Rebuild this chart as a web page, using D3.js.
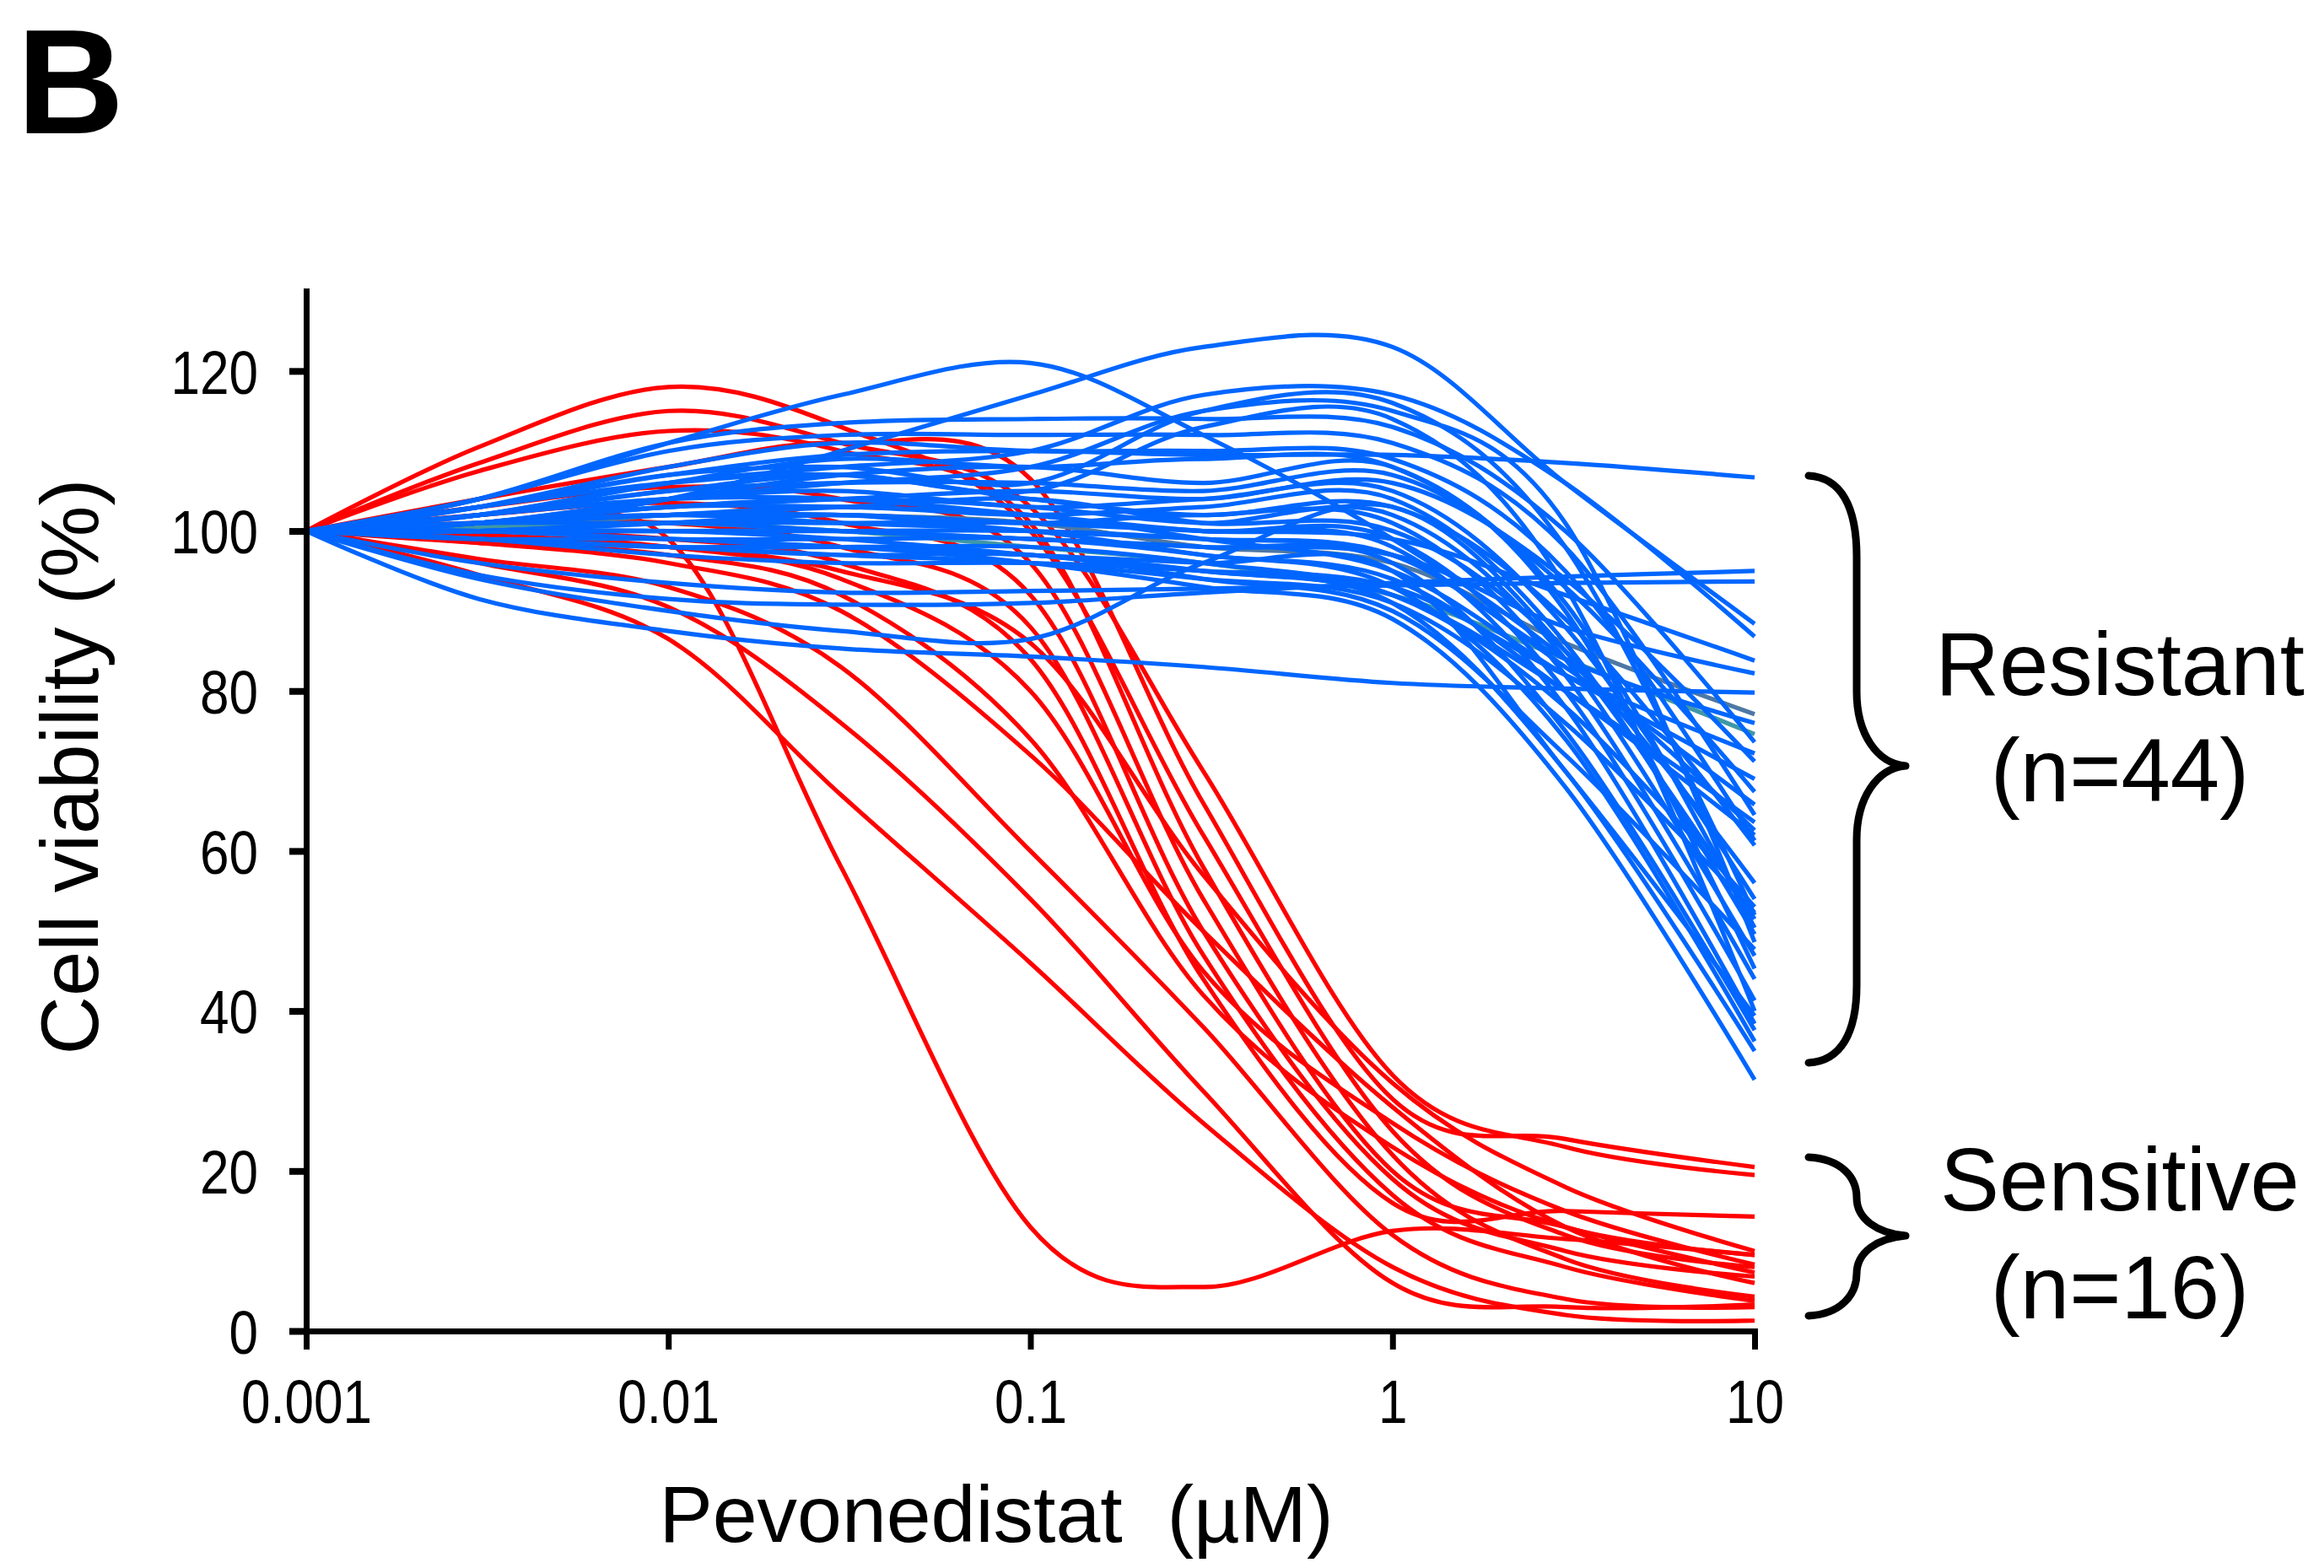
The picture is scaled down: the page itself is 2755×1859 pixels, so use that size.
<!DOCTYPE html>
<html><head><meta charset="utf-8">
<script src="https://cdn.jsdelivr.net/npm/d3@7"></script>
<style>body{margin:0;background:#fff} svg{display:block;background:#fff}</style>
</head><body><svg id="chart" width="2755" height="1859"></svg>
<script>
// ---- data ----
const concentrations = [0.001, 0.003, 0.01, 0.03, 0.1, 0.3, 1, 3, 10];
const xTickValues = [0.001, 0.01, 0.1, 1, 10];
const xTickLabels = ["0.001", "0.01", "0.1", "1", "10"];
const yTickValues = [0, 20, 40, 60, 80, 100, 120];

// Sensitive cell lines (n=16), viability % at each concentration
const sensitiveCurves = [
  [100, 110.5, 118, 113, 100, 62, 25, 12, 8],
  [100, 108.5, 115, 111, 103, 70, 32, 23, 19.5],
  [100, 107.5, 112.5, 110, 101, 58, 22, 9, 4.3],
  [100, 104, 108, 111, 106.5, 66, 29, 24, 20.5],
  [100, 103, 105.5, 104, 96, 54, 20, 13, 7.3],
  [100, 102, 103.5, 101, 92, 50, 19, 10, 6.8],
  [100, 101, 101, 98, 88, 47, 17, 8, 3.8],
  [100, 100, 99, 96, 84, 44, 16, 15, 14.3],
  [100, 99.5, 98, 94, 80, 45, 26, 15, 8.3],
  [100, 98.5, 97, 92, 74, 42, 23, 13, 9.5],
  [100, 99.5, 99, 58, 13, 5.5, 12.5, 11.5, 9.5],
  [100, 94.5, 86.5, 67, 46, 26, 8, 2, 1.3],
  [100, 96, 90.5, 76, 54, 30, 6, 3, 3.3],
  [100, 96.5, 93, 83, 60, 38, 12, 4, 3.0],
  [100, 98.5, 96, 90, 72, 50, 28, 13, 6],
  [100, 99, 98, 95, 86, 57, 31, 18, 10]
];

// Resistant cell lines (n=44)
const resistantCurves = [
  [100, 101, 104, 110, 117, 123, 123, 106, 88.4],
  [100, 104, 111, 117, 121, 112, 99, 84, 62.6],
  [100, 102, 106, 108, 110, 117, 117, 106, 86.8],
  [100, 103, 107, 108, 106, 115, 116, 98, 52],
  [100, 101, 104, 106, 108, 115, 115, 101, 48.6],
  [100, 102, 105, 107, 105, 113, 114, 93, 40],
  [100, 103, 107, 109.5, 110, 109.5, 109.5, 108.5, 106.7],
  [100, 104, 111, 113.5, 114, 114, 113, 100, 73.6],
  [100, 104, 110, 112, 112, 112, 111, 98, 64.5],
  [100, 103, 108, 111, 110, 110, 109, 95, 61.3],
  [100, 102, 106, 109, 108, 109, 108, 91, 50.4],
  [100, 101, 104, 107, 108, 106, 108, 90, 45.3],
  [100, 102, 105, 106, 106, 105, 107, 93, 67.4],
  [100, 101, 103, 104, 105, 104, 106, 94, 71.2],
  [100, 102, 104, 105, 103, 104, 105, 88, 54],
  [100, 101, 102, 103, 102, 103, 104, 86, 49.6],
  [100, 103, 106, 107, 104, 102, 103, 89, 60.7],
  [100, 101, 103, 104, 103, 101, 102, 84, 46.9],
  [100, 100, 101, 102, 101, 102, 101, 82, 44],
  [100, 101, 102, 103, 104, 101, 100, 85, 56],
  [100, 102, 104, 104, 102, 100, 99, 80, 41.3],
  [100, 100, 101, 101, 101, 100, 98, 78, 38.4],
  [100, 101, 101, 102, 100, 99, 97, 83, 65.8],
  [100, 100, 102, 102, 101, 98, 96, 86, 77.1],
  [100, 101, 103, 103, 102, 99, 95, 82, 69],
  [100, 100, 100, 100, 99, 98, 96, 75, 37.6],
  [100, 101, 102, 101, 100, 97, 94, 80, 62],
  [100, 100, 99, 99, 99, 97, 93, 74, 36.2],
  [100, 99, 98, 98, 98, 96, 92, 78, 53],
  [100, 100, 100, 99, 97, 95, 91, 70, 35],
  [100, 99, 98, 97, 97, 94, 90, 72, 47.7],
  [100, 99, 98, 98, 96, 93, 89, 68, 31.4],
  [100, 100, 99, 98, 97, 95, 92, 80, 63.6],
  [100, 99, 97, 96, 96, 95, 93, 82, 72.2],
  [100, 100, 101, 100, 99, 98, 97, 88, 82.2],
  [100, 101, 102, 102, 101, 100, 99, 92, 83.8],
  [100, 100, 100, 100, 100, 99, 97, 84, 76],
  [100, 99, 98, 97, 96, 94, 91, 76, 52.3],
  [100, 99, 99, 98, 97, 96, 95, 70, 39.4],
  [100, 91.5, 87.5, 85.3, 84.3, 83, 81, 80.3, 79.8],
  [100, 94.5, 91.5, 90.8, 91, 92.3, 93.5, 94.3, 95],
  [100, 96, 93.5, 92.3, 92.5, 92.8, 93.2, 93.5, 93.7],
  [100, 94, 90, 87.5, 86.5, 96, 103, 85, 51.5],
  [100, 100.5, 101, 100, 98, 96, 92, 84, 74.6]
];

const groupLabels = [["Resistant", "(n=44)"], ["Sensitive", "(n=16)"]];
const xTitle = "Pevonedistat  (\u00B5M)";
const yTitle = "Cell viability (%)";
const panelLetter = "B";

// ---- styles (kept separate from data) ----
const RED = "#ff0000", BLUE = "#0066ff";
const offColour = {43: "#3f98a6", 23: "#4d78a6"}; // lines partly hidden under blue
const FONT = "'Liberation Sans', Arial, Helvetica, sans-serif";
const LW = 5.2;

// ---- scales ----
const svg = d3.select("#chart");
const x = d3.scaleLog().domain([0.001, 10]).range([363, 2080]);
const y = d3.scaleLinear().domain([0, 130]).range([1578, 345]);

const line = d3.line()
  .x((v, i) => x(concentrations[i]))
  .y(v => y(v))
  .curve(d3.curveCardinal.tension(0));

// red first (blue sits on top in the reference)
svg.append("g").selectAll("path").data(sensitiveCurves).join("path")
  .attr("d", line).attr("fill", "none").attr("stroke", RED)
  .attr("stroke-width", LW).attr("stroke-linejoin", "round");

const blueOrder = d3.range(resistantCurves.length)
  .sort((a, b) => (offColour[b] ? 1 : 0) - (offColour[a] ? 1 : 0));
svg.append("g").selectAll("path").data(blueOrder).join("path")
  .attr("d", i => line(resistantCurves[i])).attr("fill", "none")
  .attr("stroke", i => offColour[i] || BLUE)
  .attr("stroke-width", LW).attr("stroke-linejoin", "round");

// ---- axes ----
const yAxis = d3.axisLeft(y).tickValues(yTickValues).tickSize(20).tickSizeOuter(0);
const gy = svg.append("g").attr("transform", "translate(363,0)").call(yAxis);
gy.select(".domain").attr("stroke", "#000").attr("stroke-width", 7).attr("stroke-linecap", "square");
gy.selectAll(".tick line").attr("stroke", "#000").attr("stroke-width", 8);
gy.selectAll(".tick text")
  .attr("x", 0).attr("dy", "0.36em")
  .attr("transform", "translate(-57,0) scale(0.85,1)")
  .attr("text-anchor", "end")
  .style("font-family", FONT).style("font-size", "73px").attr("fill", "#000");

const xAxis = d3.axisBottom(x).tickValues(xTickValues)
  .tickFormat((d, i) => xTickLabels[i]).tickSize(22).tickSizeOuter(0);
const gx = svg.append("g").attr("transform", "translate(0,1578)").call(xAxis);
gx.select(".domain").attr("stroke", "#000").attr("stroke-width", 7).attr("stroke-linecap", "square");
gx.selectAll(".tick line").attr("stroke", "#000").attr("stroke-width", 7);
gx.selectAll(".tick text")
  .attr("y", 0).attr("dy", 0)
  .attr("transform", "translate(0,109) scale(0.85,1)")
  .attr("text-anchor", "middle")
  .style("font-family", FONT).style("font-size", "73px").attr("fill", "#000");

// ---- titles ----
svg.append("text").attr("x", 1181).attr("y", 1828).attr("text-anchor", "middle")
  .style("font-family", FONT).style("font-size", "95px").style("white-space", "pre")
  .attr("xml:space", "preserve").text(xTitle);

svg.append("text").attr("transform", "translate(116,909) rotate(-90)")
  .attr("text-anchor", "middle")
  .style("font-family", FONT).style("font-size", "96px").text(yTitle);

svg.append("text").attr("x", 20).attr("y", 158)
  .style("font-family", FONT).style("font-size", "176px").style("font-weight", "bold")
  .text(panelLetter);

// ---- braces and group labels ----
const braces = [
  "M2144,564 C2182,566 2201,600 2201,660 L2201,820 C2201,870 2225,905 2259,908 C2225,911 2201,946 2201,996 L2201,1168 C2201,1225 2182,1258 2144,1260",
  "M2144,1372 C2182,1374 2201,1395 2201,1420 C2201,1445 2225,1462 2259,1465 C2225,1468 2201,1485 2201,1510 C2201,1535 2182,1558 2144,1560"
];
svg.append("g").selectAll("path").data(braces).join("path")
  .attr("d", d => d).attr("fill", "none").attr("stroke", "#000")
  .attr("stroke-width", 9).attr("stroke-linecap", "round").attr("stroke-linejoin", "round");

const labelPos = [[824, 950], [1435, 1563]];
groupLabels.forEach((lab, k) => {
  lab.forEach((t, j) => {
    svg.append("text").attr("x", 2513).attr("y", labelPos[k][j])
      .attr("text-anchor", "middle")
      .style("font-family", FONT).style("font-size", "105px").text(t);
  });
});
</script>
</body></html>
